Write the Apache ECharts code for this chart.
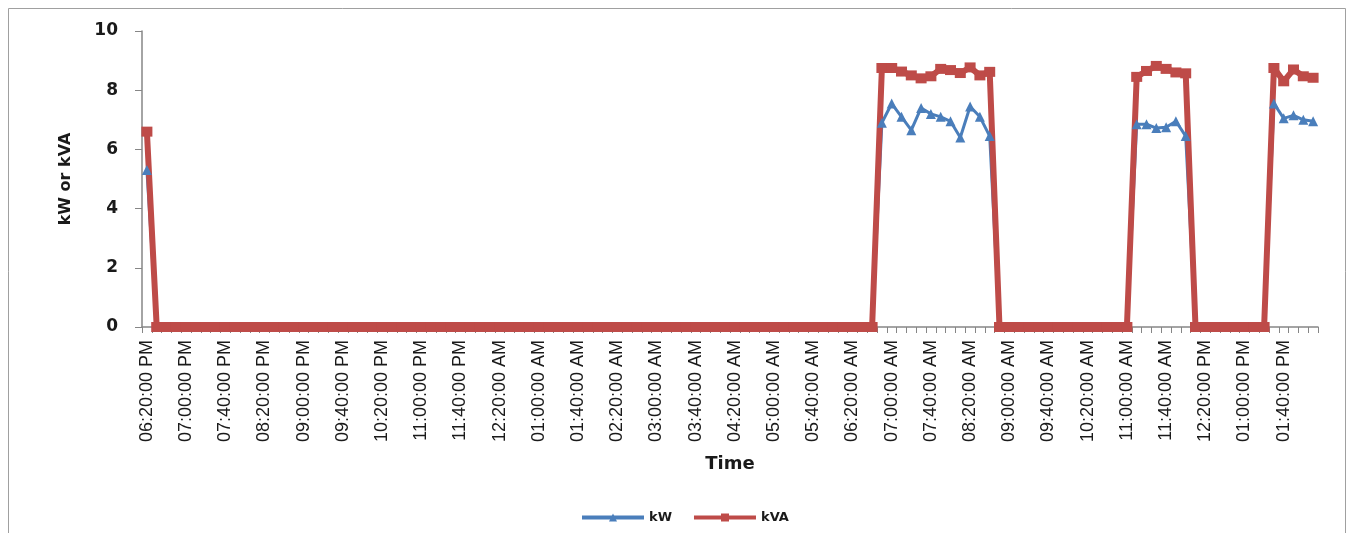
<!DOCTYPE html>
<html>
<head>
<meta charset="utf-8">
<title>kW / kVA</title>
<script src="https://cdn.jsdelivr.net/npm/echarts@6/dist/echarts.min.js"></script>
<style>
  html, body { margin: 0; padding: 0; background: #ffffff; }
  #chart { width: 1354px; height: 533px; }
</style>
</head>
<body>
<div id="chart"></div>
<script>
// Sample times, one every 10 minutes
const times = [
  '06:20:00 PM','06:30:00 PM','06:40:00 PM','06:50:00 PM','07:00:00 PM','07:10:00 PM','07:20:00 PM','07:30:00 PM','07:40:00 PM','07:50:00 PM',
  '08:00:00 PM','08:10:00 PM','08:20:00 PM','08:30:00 PM','08:40:00 PM','08:50:00 PM','09:00:00 PM','09:10:00 PM','09:20:00 PM','09:30:00 PM',
  '09:40:00 PM','09:50:00 PM','10:00:00 PM','10:10:00 PM','10:20:00 PM','10:30:00 PM','10:40:00 PM','10:50:00 PM','11:00:00 PM','11:10:00 PM',
  '11:20:00 PM','11:30:00 PM','11:40:00 PM','11:50:00 PM','12:00:00 AM','12:10:00 AM','12:20:00 AM','12:30:00 AM','12:40:00 AM','12:50:00 AM',
  '01:00:00 AM','01:10:00 AM','01:20:00 AM','01:30:00 AM','01:40:00 AM','01:50:00 AM','02:00:00 AM','02:10:00 AM','02:20:00 AM','02:30:00 AM',
  '02:40:00 AM','02:50:00 AM','03:00:00 AM','03:10:00 AM','03:20:00 AM','03:30:00 AM','03:40:00 AM','03:50:00 AM','04:00:00 AM','04:10:00 AM',
  '04:20:00 AM','04:30:00 AM','04:40:00 AM','04:50:00 AM','05:00:00 AM','05:10:00 AM','05:20:00 AM','05:30:00 AM','05:40:00 AM','05:50:00 AM',
  '06:00:00 AM','06:10:00 AM','06:20:00 AM','06:30:00 AM','06:40:00 AM','06:50:00 AM','07:00:00 AM','07:10:00 AM','07:20:00 AM','07:30:00 AM',
  '07:40:00 AM','07:50:00 AM','08:00:00 AM','08:10:00 AM','08:20:00 AM','08:30:00 AM','08:40:00 AM','08:50:00 AM','09:00:00 AM','09:10:00 AM',
  '09:20:00 AM','09:30:00 AM','09:40:00 AM','09:50:00 AM','10:00:00 AM','10:10:00 AM','10:20:00 AM','10:30:00 AM','10:40:00 AM','10:50:00 AM',
  '11:00:00 AM','11:10:00 AM','11:20:00 AM','11:30:00 AM','11:40:00 AM','11:50:00 AM','12:00:00 PM','12:10:00 PM','12:20:00 PM','12:30:00 PM',
  '12:40:00 PM','12:50:00 PM','01:00:00 PM','01:10:00 PM','01:20:00 PM','01:30:00 PM','01:40:00 PM','01:50:00 PM','02:00:00 PM','02:10:00 PM'
];

// Real power (kW), same order as times
const kW = [
  5.3, 0, 0, 0, 0, 0, 0, 0, 0, 0,
  0, 0, 0, 0, 0, 0, 0, 0, 0, 0,
  0, 0, 0, 0, 0, 0, 0, 0, 0, 0,
  0, 0, 0, 0, 0, 0, 0, 0, 0, 0,
  0, 0, 0, 0, 0, 0, 0, 0, 0, 0,
  0, 0, 0, 0, 0, 0, 0, 0, 0, 0,
  0, 0, 0, 0, 0, 0, 0, 0, 0, 0,
  0, 0, 0, 0, 0, 6.9, 7.55, 7.1, 6.65, 7.4,
  7.2, 7.1, 6.95, 6.4, 7.45, 7.1, 6.45, 0, 0, 0,
  0, 0, 0, 0, 0, 0, 0, 0, 0, 0,
  0, 6.85, 6.85, 6.72, 6.75, 6.95, 6.45, 0, 0, 0,
  0, 0, 0, 0, 0, 7.55, 7.05, 7.15, 7.0, 6.95
];

// Apparent power (kVA), same order as times
const kVA = [
  6.6, 0, 0, 0, 0, 0, 0, 0, 0, 0,
  0, 0, 0, 0, 0, 0, 0, 0, 0, 0,
  0, 0, 0, 0, 0, 0, 0, 0, 0, 0,
  0, 0, 0, 0, 0, 0, 0, 0, 0, 0,
  0, 0, 0, 0, 0, 0, 0, 0, 0, 0,
  0, 0, 0, 0, 0, 0, 0, 0, 0, 0,
  0, 0, 0, 0, 0, 0, 0, 0, 0, 0,
  0, 0, 0, 0, 0, 8.75, 8.75, 8.63, 8.5, 8.4,
  8.47, 8.72, 8.68, 8.58, 8.77, 8.5, 8.62, 0, 0, 0,
  0, 0, 0, 0, 0, 0, 0, 0, 0, 0,
  0, 8.45, 8.65, 8.82, 8.72, 8.6, 8.57, 0, 0, 0,
  0, 0, 0, 0, 0, 8.75, 8.3, 8.7, 8.47, 8.42
];

const BLUE = '#4A7EBB';
const RED = '#BE4B48';
const AXIS_GREY = '#868686';

const chart = echarts.init(document.getElementById('chart'));

chart.setOption({
  animation: false,
  backgroundColor: '#ffffff',
  graphic: [{
    type: 'rect',
    shape: { x: 8.5, y: 8.5, width: 1337, height: 540 },
    style: { fill: 'none', stroke: '#a0a0a0', lineWidth: 1 },
    silent: true
  }],
  grid: { left: 142, right: 36, top: 31, bottom: 206 },
  legend: {
    left: 575,
    top: 506,
    itemWidth: 62,
    itemHeight: 10,
    itemGap: 20,
    lineStyle: { width: 4 },
    textStyle: { fontFamily: 'DejaVu Sans', fontWeight: 'bold', fontSize: 13, color: '#1a1a1a' },
    data: ['kW', 'kVA']
  },
  xAxis: {
    type: 'category',
    data: times,
    boundaryGap: true,
    name: 'Time',
    nameLocation: 'middle',
    nameGap: 128,
    nameTextStyle: { fontFamily: 'DejaVu Sans', fontWeight: 'bold', fontSize: 18, color: '#1a1a1a' },
    axisLine: { lineStyle: { color: AXIS_GREY, width: 1.5 } },
    axisTick: { show: true, interval: 0, length: 6, lineStyle: { color: AXIS_GREY } },
    axisLabel: {
      interval: 3,
      rotate: 90,
      margin: 13,
      fontFamily: 'Liberation Sans',
      fontSize: 18,
      color: '#1a1a1a'
    },
    splitLine: { show: false }
  },
  yAxis: {
    type: 'value',
    min: 0,
    max: 10,
    interval: 2,
    name: 'kW or kVA',
    nameLocation: 'middle',
    nameGap: 68,
    nameRotate: 90,
    nameTextStyle: { fontFamily: 'DejaVu Sans', fontWeight: 'bold', fontSize: 16, color: '#1a1a1a' },
    axisLine: { show: true, lineStyle: { color: AXIS_GREY, width: 1.5 } },
    axisTick: { show: true, length: 7, lineStyle: { color: AXIS_GREY } },
    axisLabel: {
      margin: 24,
      fontFamily: 'DejaVu Sans',
      fontWeight: 'bold',
      fontSize: 17,
      color: '#1a1a1a'
    },
    splitLine: { show: false }
  },
  series: [
    {
      name: 'kW',
      type: 'line',
      data: kW,
      symbol: 'triangle',
      symbolSize: 10,
      showAllSymbol: true,
      clip: false,
      lineStyle: { color: BLUE, width: 3 },
      itemStyle: { color: BLUE }
    },
    {
      name: 'kVA',
      type: 'line',
      data: kVA,
      symbol: 'rect',
      symbolSize: [11, 10],
      showAllSymbol: true,
      clip: false,
      lineStyle: { color: RED, width: 6 },
      itemStyle: { color: RED }
    }
  ]
});
</script>
</body>
</html>
